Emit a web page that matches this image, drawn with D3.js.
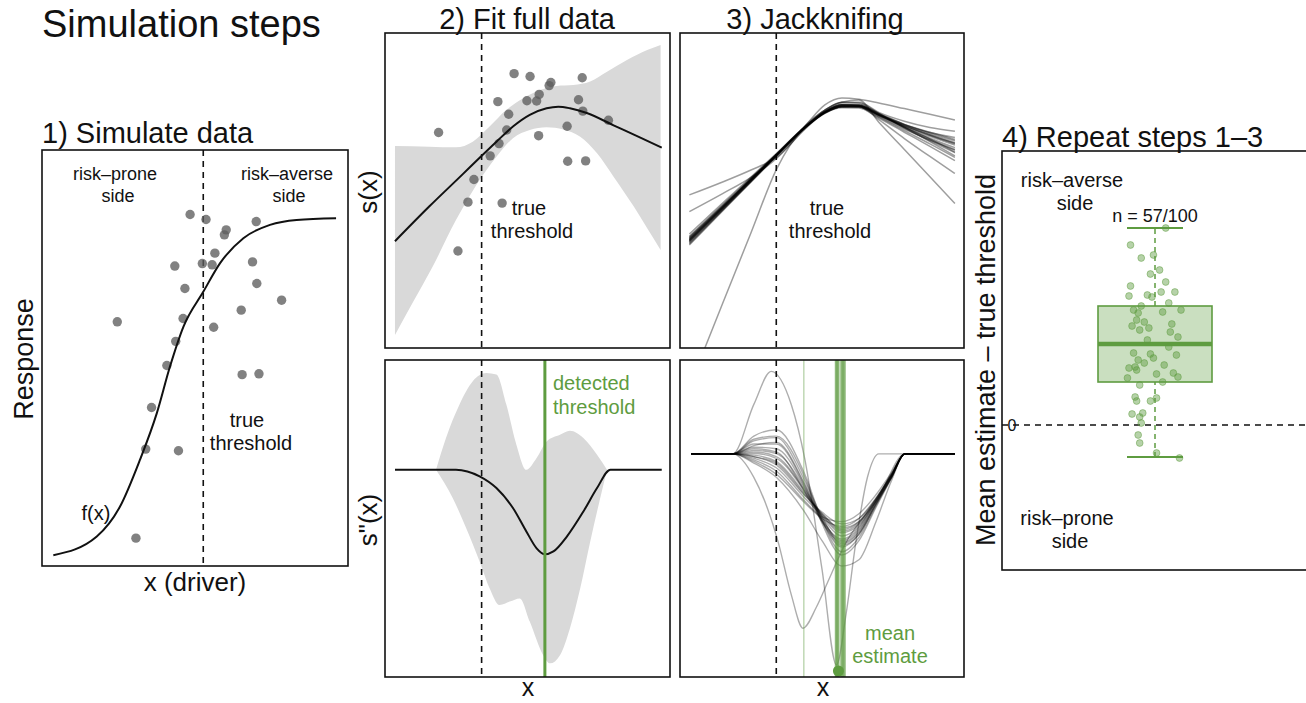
<!DOCTYPE html>
<html>
<head>
<meta charset="utf-8">
<script src="https://cdn.jsdelivr.net/npm/d3@7"></script>
<style>
  body { margin: 0; background: #fff; }
  svg { display: block; font-family: "Liberation Sans", Arial, Helvetica, sans-serif; }
</style>
</head>
<body>
<svg id="fig" width="1306" height="703"></svg>
<script>
// ---------------- Step 1: simulated data ----------------
const simX = [4.84,5.36,7.00,6.02,5.96,5.65,4.34,5.24,5.56,6.88,7.02,4.67,7.83,6.51,2.46,4.61,5.61,4.37,4.08,6.54,7.09,3.58,3.39,4.46,3.07];
const simY = [8.45,8.33,8.28,8.08,7.96,7.52,7.21,7.27,7.24,7.31,6.79,6.67,6.39,6.15,5.87,5.95,5.74,5.40,4.82,4.60,4.62,3.81,2.81,2.77,0.67];
const trueFX = [0.37,1.79,2.55,3.20,3.75,4.18,4.62,5.27,5.82,6.58,7.45,8.32,9.61];
const trueFY = [0.26,0.71,1.43,2.55,3.67,4.79,5.75,6.59,7.28,7.88,8.20,8.32,8.36];
const simThreshold = 5.27;

// ---------------- Step 2: fit to full data ----------------
const obsX = [1.88,4.53,5.09,5.82,5.76,6.92,5.41,3.96,4.98,5.32,6.79,4.34,6.94,7.84,4.27,6.39,5.39,4.00,3.69,6.41,7.04,3.12,2.91,4.11,2.56];
const obsY = [6.84,8.71,8.62,8.43,8.33,8.58,8.05,7.82,7.85,7.84,7.88,7.42,7.52,7.23,6.92,7.04,6.74,6.49,6.10,5.93,5.94,5.35,4.63,4.60,3.08];
const fitX = [0.35,1.55,2.73,3.32,3.91,4.49,5.08,5.67,6.08,6.49,7.08,8.02,8.96,9.71];
const fitY = [3.39,4.49,5.52,6.04,6.55,7.03,7.40,7.61,7.66,7.61,7.46,7.07,6.68,6.36];
const ciUpX = [0.35,1.55,2.49,3.08,3.67,4.26,4.85,5.44,6.02,6.61,7.20,7.79,8.49,9.20,9.67];
const ciUpY = [6.41,6.39,6.37,6.55,7.03,7.56,7.93,8.19,8.32,8.35,8.46,8.77,9.14,9.46,9.62];
const ciLoX = [0.35,0.96,1.67,2.49,3.20,3.91,4.49,5.08,5.67,6.26,6.85,7.44,8.02,8.73,9.20,9.67];
const ciLoY = [0.41,1.42,2.58,4.06,5.17,6.07,6.66,6.92,7.01,6.94,6.71,6.18,5.44,4.49,3.80,3.11];
const d2X = [0.35,2.49,3.32,3.91,4.49,4.96,5.32,5.61,5.91,6.38,6.96,7.44,7.91,9.71];
const d2Y = [6.54,6.54,6.33,5.96,5.33,4.59,4.06,3.87,3.96,4.43,5.22,5.96,6.54,6.54];
const d2UpX = [1.79,2.14,2.61,3.08,3.55,3.91,4.26,4.61,4.96,5.32,5.67,6.14,6.49,6.96,7.44,7.79];
const d2UpY = [6.54,7.54,8.59,9.33,9.59,9.54,8.59,7.33,6.54,6.91,7.43,7.64,7.77,7.54,7.01,6.54];
const d2LoX = [1.79,2.38,2.85,3.32,3.67,4.02,4.38,4.73,5.08,5.55,5.79,6.14,6.49,6.85,7.20,7.55,7.79];
const d2LoY = [6.54,5.64,4.69,3.64,2.80,2.27,2.38,2.48,1.75,0.69,0.43,0.69,1.54,2.80,4.27,5.64,6.54];
const trueThreshold = 3.39;
const detectedThreshold = 5.61;

// ---------------- Step 3: jackknife fits ----------------
const jackTopX = [0.33,1.5,2.5,3.4,4.4,5.1,5.7,6.3,7.0,7.9,8.8,9.68];
const jackTopY = [
  [3.43,4.46,5.34,6.13,7.00,7.47,7.67,7.68,7.40,7.03,6.72,6.44],
  [3.30,4.37,5.28,6.10,6.98,7.45,7.66,7.66,7.35,6.95,6.60,6.28],
  [3.55,4.55,5.40,6.16,7.02,7.50,7.70,7.70,7.43,7.10,6.82,6.58],
  [3.38,4.42,5.31,6.12,7.01,7.49,7.72,7.72,7.42,7.00,6.62,6.30],
  [3.50,4.50,5.37,6.14,6.99,7.46,7.65,7.64,7.38,7.06,6.78,6.52],
  [3.27,4.35,5.27,6.09,7.00,7.52,7.75,7.74,7.44,7.02,6.64,6.22],
  [3.62,4.60,5.43,6.18,7.03,7.48,7.66,7.67,7.41,7.09,6.84,6.68],
  [3.45,4.47,5.35,6.13,7.00,7.46,7.63,7.62,7.30,6.85,6.40,5.95],
  [3.40,4.44,5.33,6.12,7.02,7.55,7.80,7.78,7.45,7.00,6.55,6.10],
  [3.36,4.40,5.30,6.11,6.99,7.47,7.68,7.66,7.33,6.90,6.48,6.05],
  [3.33,4.38,5.29,6.11,7.00,7.50,7.71,7.70,7.38,6.98,6.58,6.20],
  [3.52,4.52,5.38,6.15,7.01,7.47,7.67,7.66,7.40,7.07,6.76,6.48],
  [3.41,4.43,5.32,6.12,7.00,7.48,7.69,7.69,7.39,7.01,6.66,6.36],
  [4.86,5.27,5.65,6.05,6.95,7.48,7.68,7.68,7.40,7.05,6.75,6.50],
  [4.33,4.90,5.42,6.02,6.97,7.50,7.72,7.70,7.45,7.10,6.85,6.62],
  [-1.23,1.41,3.66,5.68,7.05,7.55,7.80,7.80,7.48,7.20,7.00,6.88],
  [3.48,4.49,5.36,6.14,7.02,7.55,7.80,7.87,7.17,6.30,5.44,4.59],
  [3.42,4.45,5.34,6.13,7.01,7.50,7.72,7.68,7.25,6.65,6.08,5.54],
  [3.46,4.48,5.36,6.15,7.05,7.72,7.94,7.90,7.78,7.60,7.42,7.24]
];
const jackBotX = [0.39,1.86,2.6,3.39,4.39,5.0,5.7,6.3,6.9,7.45,7.92,9.68];
const jackBotY = [
  [7.04,7.04,6.95,6.69,5.73,5.20,4.83,5.00,5.62,6.38,7.04,7.04],
  [7.04,7.04,7.10,6.95,5.90,5.10,4.55,4.80,5.55,6.35,7.04,7.04],
  [7.04,7.04,7.30,7.40,6.10,5.00,4.30,4.65,5.50,6.32,7.04,7.04],
  [7.04,7.04,7.45,7.55,6.20,5.05,4.20,4.55,5.45,6.30,7.04,7.04],
  [7.04,7.04,7.60,7.80,6.40,4.95,3.95,4.40,5.40,6.30,7.04,7.04],
  [7.04,7.04,6.85,6.50,5.55,5.05,4.90,5.15,5.75,6.45,7.04,7.04],
  [7.04,7.04,6.80,6.40,5.50,5.00,4.75,5.00,5.65,6.40,7.04,7.04],
  [7.04,7.04,7.15,7.05,5.95,4.95,4.35,4.70,5.55,6.35,7.04,7.04],
  [7.04,7.04,7.25,7.20,6.00,4.90,4.10,4.50,5.45,6.32,7.04,7.04],
  [7.04,7.04,7.00,6.80,5.80,5.15,4.70,4.90,5.60,6.38,7.04,7.04],
  [7.04,7.04,7.50,7.60,6.30,4.85,3.85,4.30,5.35,6.28,7.04,7.04],
  [7.04,7.04,6.90,6.60,5.65,5.10,4.60,4.85,5.60,6.40,7.04,7.04],
  [7.04,7.04,6.75,6.30,5.20,4.30,3.50,3.70,4.90,6.20,7.04,7.04],
  [7.04,7.04,7.20,7.10,5.85,4.90,4.25,4.60,5.50,6.33,7.04,7.04],
  [7.04,7.04,6.95,6.75,5.75,5.15,4.65,4.90,5.62,6.40,7.04,7.04],
  [7.04,7.04,7.35,7.35,6.05,4.95,4.15,4.50,5.45,6.30,7.04,7.04],
  [7.04,7.04,7.05,6.90,5.85,5.05,4.45,4.75,5.55,6.36,7.04,7.04]
];
const jackHumpX = [0.39,1.86,2.6,3.21,3.92,4.39,5.0,5.51,5.85,6.2,6.6,7.0,9.68];
const jackHumpY = [7.04,7.04,8.6,9.64,8.59,6.9,3.4,0.38,2.0,4.3,6.3,7.04,7.04];
const jackEarlyX = [0.39,1.86,2.6,3.45,3.92,4.33,4.8,5.21,5.8,6.98,7.92,9.68];
const jackEarlyY = [7.04,7.04,6.3,4.28,2.59,1.54,2.2,3.01,4.17,5.64,7.04,7.04];
const jackThresholds = [5.47,5.49,5.50,5.52,5.53,5.55,5.56,5.58,5.60,5.66,5.68,5.70,5.72,5.73,5.75,5.76,5.78,5.80,5.82,4.36];

// ---------------- Step 4: repeated simulations ----------------
const repJitter = [1.07,0.84,0.91,0.99,0.97,1.03,0.84,1.07,0.83,1.04,1.13,0.95,0.98,1.09,0.91,0.86,0.89,1.05,1.17,0.85,0.90,0.93,0.96,1.11,1.15,1.09,0.86,0.97,0.99,1.14,0.89,0.83,0.87,0.88,1.01,0.82,1.15,1.05,0.90,1.01,0.87,0.88,0.97,0.85,0.92,0.90,0.91,0.89,0.90,1.01,1.16,0.95,1.10,0.93,1.06,0.88,1.12];
const repDeviation = [1.97,1.80,1.67,1.70,1.51,1.55,1.39,1.43,1.29,1.33,1.33,1.30,1.28,1.22,1.19,1.15,1.12,1.13,1.15,0.99,0.95,1.03,0.97,1.01,0.88,0.78,0.72,0.71,0.67,0.70,0.65,0.57,0.58,0.55,0.51,0.47,0.48,0.43,0.40,0.27,0.28,0.24,0.24,0.11,0.12,0.08,0.02,-0.10,-0.18,-0.28,-0.33,0.85,0.93,0.62,0.60,1.05,0.52];
const boxStats = [-0.32, 0.43, 0.81, 1.19, 1.97]; // lower whisker, Q1, median, Q3, upper whisker
const nDetected = 57, nRuns = 100;

// ---------------- drawing ----------------
const svg = d3.select("#fig");
const GREEN = "#5e9c40";
const defs = svg.append("defs");

function makePanel(box, xDomain, yDomain, id, xRangeEnd) {
  const xs = d3.scaleLinear().domain(xDomain).range([box.x0, xRangeEnd || box.x1]);
  const ys = d3.scaleLinear().domain(yDomain).range([box.y1, box.y0]);
  defs.append("clipPath").attr("id", id).append("rect")
    .attr("x", box.x0).attr("y", box.y0)
    .attr("width", box.x1 - box.x0).attr("height", box.y1 - box.y0);
  const g = svg.append("g").attr("clip-path", `url(#${id})`);
  const line = d3.line().x(d => xs(d[0])).y(d => ys(d[1])).curve(d3.curveMonotoneX);
  return { xs, ys, g, line, box };
}
function frame(p) {
  svg.append("rect").attr("x", p.box.x0).attr("y", p.box.y0)
    .attr("width", p.box.x1 - p.box.x0).attr("height", p.box.y1 - p.box.y0)
    .attr("fill", "none").attr("stroke", "#111").attr("stroke-width", 1.6);
}
function band(p, upX, upY, loX, loY) {
  const up = p.line(d3.zip(upX, upY));
  const lo = p.line(d3.zip(loX, loY).reverse());
  p.g.append("path").attr("d", up + "L" + lo.slice(1) + "Z").attr("fill", "#d9d9d9");
}
function dashedV(p, xv) {
  p.g.append("line").attr("x1", p.xs(xv)).attr("x2", p.xs(xv))
    .attr("y1", p.box.y0).attr("y2", p.box.y1)
    .attr("stroke", "#111").attr("stroke-width", 1.6).attr("stroke-dasharray", "6,5");
}
function text(x, y, s, size, opts = {}) {
  const t = svg.append("text").attr("x", x).attr("y", y).text(s)
    .attr("font-size", size).attr("fill", opts.fill || "#111")
    .attr("text-anchor", opts.anchor || "start");
  if (opts.rotate) t.attr("transform", `rotate(-90,${x},${y})`);
  return t;
}
function points(p, xs, ys) {
  p.g.selectAll(null).data(d3.zip(xs, ys)).join("circle")
    .attr("cx", d => p.xs(d[0])).attr("cy", d => p.ys(d[1])).attr("r", 4.7)
    .attr("fill", "#5e5e5e").attr("fill-opacity", 0.78);
}

// Panel 1
const p1 = makePanel({x0: 42, y0: 150, x1: 348, y1: 566}, [0, 10], [0, 10], "c1");
dashedV(p1, simThreshold);
points(p1, simX, simY);
p1.g.append("path").attr("d", p1.line(d3.zip(trueFX, trueFY)))
  .attr("fill", "none").attr("stroke", "#111").attr("stroke-width", 2);
frame(p1);

// Panel 2 top
const p2t = makePanel({x0: 385, y0: 33, x1: 670, y1: 348}, [0, 10], [0, 10], "c2t");
band(p2t, ciUpX, ciUpY, ciLoX, ciLoY);
dashedV(p2t, trueThreshold);
points(p2t, obsX, obsY);
p2t.g.append("path").attr("d", p2t.line(d3.zip(fitX, fitY)))
  .attr("fill", "none").attr("stroke", "#111").attr("stroke-width", 2);
frame(p2t);

// Panel 2 bottom
const p2b = makePanel({x0: 385, y0: 360, x1: 670, y1: 677}, [0, 10], [0, 10], "c2b");
band(p2b, d2UpX, d2UpY, d2LoX, d2LoY);
dashedV(p2b, trueThreshold);
p2b.g.append("path").attr("d", p2b.line(d3.zip(d2X, d2Y)))
  .attr("fill", "none").attr("stroke", "#111").attr("stroke-width", 2);
p2b.g.append("line").attr("x1", p2b.xs(detectedThreshold)).attr("x2", p2b.xs(detectedThreshold))
  .attr("y1", 360).attr("y2", 677).attr("stroke", GREEN).attr("stroke-width", 3);
frame(p2b);

// Panel 3 top
const p3t = makePanel({x0: 680, y0: 33, x1: 964, y1: 348}, [0, 10], [0, 10], "c3t");
dashedV(p3t, trueThreshold);
jackTopY.forEach(ys => {
  p3t.g.append("path").attr("d", p3t.line(d3.zip(jackTopX, ys)))
    .attr("fill", "none").attr("stroke", "#000").attr("stroke-opacity", 0.38).attr("stroke-width", 1.5);
});
frame(p3t);

// Panel 3 bottom
const p3b = makePanel({x0: 680, y0: 360, x1: 964, y1: 677}, [0, 10], [0, 10], "c3b");
dashedV(p3b, trueThreshold);
const botCurves = jackBotY.map(ys => d3.zip(jackBotX, ys))
  .concat([d3.zip(jackHumpX, jackHumpY), d3.zip(jackEarlyX, jackEarlyY)]);
botCurves.forEach(c => {
  p3b.g.append("path").attr("d", p3b.line(c))
    .attr("fill", "none").attr("stroke", "#000").attr("stroke-opacity", 0.32).attr("stroke-width", 1.4);
});
jackThresholds.forEach(t => {
  p3b.g.append("line").attr("x1", p3b.xs(t)).attr("x2", p3b.xs(t))
    .attr("y1", 360).attr("y2", 677).attr("stroke", GREEN)
    .attr("stroke-opacity", 0.42).attr("stroke-width", 1.4);
});
const meanEst = d3.mean(jackThresholds);
p3b.g.append("circle").attr("cx", p3b.xs(meanEst)).attr("cy", 671).attr("r", 5.5).attr("fill", GREEN);
frame(p3b);

// Panel 4
const p4 = makePanel({x0: 1002, y0: 151, x1: 1320, y1: 570}, [0, 2], [-1.45, 2.74], "c4", 1308);
const cx = p4.xs(1), halfBox = 57, halfCap = 28;
p4.g.append("line").attr("x1", 1002).attr("x2", 1320).attr("y1", p4.ys(0)).attr("y2", p4.ys(0))
  .attr("stroke", "#111").attr("stroke-width", 1.5).attr("stroke-dasharray", "6,5");
const [wLo, q1, med, q3, wHi] = boxStats;
[[wLo, q1], [q3, wHi]].forEach(([a, b]) => {
  p4.g.append("line").attr("x1", cx).attr("x2", cx).attr("y1", p4.ys(a)).attr("y2", p4.ys(b))
    .attr("stroke", GREEN).attr("stroke-width", 1.5).attr("stroke-dasharray", "5,4");
});
[wLo, wHi].forEach(v => {
  p4.g.append("line").attr("x1", cx - halfCap).attr("x2", cx + halfCap).attr("y1", p4.ys(v)).attr("y2", p4.ys(v))
    .attr("stroke", GREEN).attr("stroke-width", 1.8);
});
p4.g.append("rect").attr("x", cx - halfBox).attr("y", p4.ys(q3))
  .attr("width", 2 * halfBox).attr("height", p4.ys(q1) - p4.ys(q3))
  .attr("fill", "#cadfc0").attr("stroke", GREEN).attr("stroke-width", 1.6);
p4.g.append("line").attr("x1", cx - halfBox).attr("x2", cx + halfBox).attr("y1", p4.ys(med)).attr("y2", p4.ys(med))
  .attr("stroke", GREEN).attr("stroke-width", 4.5);
p4.g.selectAll(null).data(d3.zip(repJitter, repDeviation)).join("circle")
  .attr("cx", d => p4.xs(d[0])).attr("cy", d => p4.ys(d[1])).attr("r", 3.4)
  .attr("fill", GREEN).attr("fill-opacity", 0.45)
  .attr("stroke", GREEN).attr("stroke-opacity", 0.6).attr("stroke-width", 0.8);
frame(p4);
text(1012, p4.ys(0) + 6, "0", 16, {anchor: "middle"});
text(cx, 222, `n = ${nDetected}/${nRuns}`, 18, {anchor: "middle"});

// titles
text(42, 37, "Simulation steps", 38);
text(42, 143, "1) Simulate data", 29);
text(527, 29, "2) Fit full data", 29, {anchor: "middle"});
text(815, 29, "3) Jackknifing", 29, {anchor: "middle"});
text(1002, 147, "4) Repeat steps 1–3", 29);

// axis titles
text(33, 359, "Response", 27, {anchor: "middle", rotate: true});
text(195, 591, "x (driver)", 26, {anchor: "middle"});
text(377, 192, "s(x)", 26, {anchor: "middle", rotate: true});
text(377, 520, "s\"(x)", 26, {anchor: "middle", rotate: true});
text(528, 696, "x", 25, {anchor: "middle"});
text(823, 696, "x", 25, {anchor: "middle"});
text(995, 360, "Mean estimate – true threshold", 27, {anchor: "middle", rotate: true});

// annotations
text(115, 180, "risk–prone", 18, {anchor: "middle"});
text(118, 202, "side", 18, {anchor: "middle"});
text(287, 180, "risk–averse", 18, {anchor: "middle"});
text(289, 202, "side", 18, {anchor: "middle"});
text(247, 427, "true", 20, {anchor: "middle"});
text(251, 450, "threshold", 20, {anchor: "middle"});
text(96, 520, "f(x)", 20, {anchor: "middle"});
text(529, 215, "true", 20, {anchor: "middle"});
text(532, 238, "threshold", 20, {anchor: "middle"});
text(553, 390, "detected", 20, {fill: GREEN});
text(553, 414, "threshold", 20, {fill: GREEN});
text(827, 215, "true", 20, {anchor: "middle"});
text(830, 238, "threshold", 20, {anchor: "middle"});
text(890, 640, "mean", 20, {anchor: "middle", fill: GREEN});
text(890, 663, "estimate", 20, {anchor: "middle", fill: GREEN});
text(1072, 187, "risk–averse", 20, {anchor: "middle"});
text(1075, 210, "side", 20, {anchor: "middle"});
text(1067, 525, "risk–prone", 20, {anchor: "middle"});
text(1070, 548, "side", 20, {anchor: "middle"});
</script>
</body>
</html>
